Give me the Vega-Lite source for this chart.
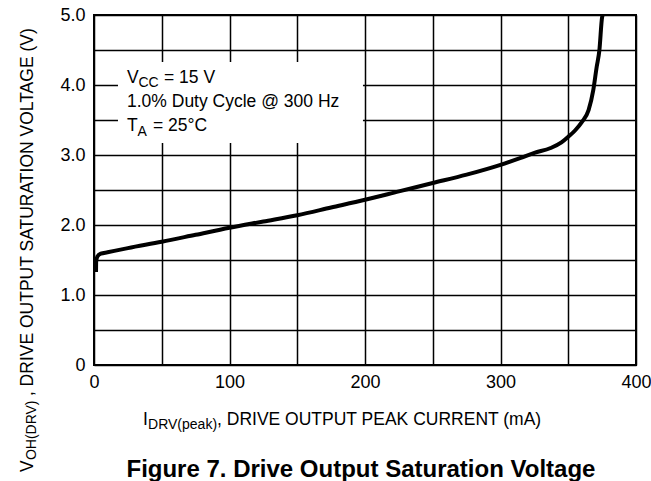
{
  "$schema": "https://vega.github.io/schema/vega-lite/v6.json",
  "width": 542,
  "height": 350,
  "autosize": {"type": "none"},
  "padding": {"left": 94, "top": 15, "right": 15, "bottom": 116},
  "background": "white",
  "config": {
    "view": {"stroke": "#000", "strokeWidth": 2},
    "font": "Liberation Sans",
    "axis": {
      "domain": false, "ticks": false, "grid": true, "gridColor": "#000", "gridWidth": 1.5, "gridOpacity": 1,
      "labelFont": "Liberation Sans", "labelFontSize": 18, "labelColor": "#000",
      "labelOverlap": false, "labelFlush": false
    },
    "text": {"font": "Liberation Sans", "color": "#000", "fontSize": 17.5, "align": "left", "baseline": "alphabetic"}
  },
  "encoding": {
    "x": {"type": "quantitative", "title": null, "scale": {"domain": [0, 400], "nice": false},
      "axis": {"values": [0, 50, 100, 150, 200, 250, 300, 350, 400], "labelExpr": "datum.value % 100 === 0 ? datum.label : ''", "labelPadding": 8}},
    "y": {"type": "quantitative", "title": null, "scale": {"domain": [0, 5], "nice": false},
      "axis": {"values": [0, 0.5, 1, 1.5, 2, 2.5, 3, 3.5, 4, 4.5, 5], "labelExpr": "datum.value === 0 ? '0' : (datum.value % 1 === 0 ? format(datum.value, '.1f') : '')", "labelPadding": 9}}
  },
  "layer": [
    {
      "data": {"values": [{"I": 1.5, "V": 1.33}, {"I": 1.6, "V": 1.48}, {"I": 2.5, "V": 1.55}, {"I": 5, "V": 1.59}, {"I": 10, "V": 1.61}, {"I": 25, "V": 1.67}, {"I": 50, "V": 1.76}, {"I": 75, "V": 1.86}, {"I": 100, "V": 1.96}, {"I": 125, "V": 2.05}, {"I": 150, "V": 2.14}, {"I": 175, "V": 2.25}, {"I": 200, "V": 2.36}, {"I": 225, "V": 2.48}, {"I": 250, "V": 2.6}, {"I": 275, "V": 2.72}, {"I": 300, "V": 2.86}, {"I": 315, "V": 2.96}, {"I": 325, "V": 3.03}, {"I": 337, "V": 3.1}, {"I": 345, "V": 3.18}, {"I": 350, "V": 3.26}, {"I": 355, "V": 3.35}, {"I": 360, "V": 3.47}, {"I": 365, "V": 3.64}, {"I": 368.5, "V": 3.93}, {"I": 371, "V": 4.26}, {"I": 373, "V": 4.5}, {"I": 375, "V": 4.97}, {"I": 375.5, "V": 5.0}]},
      "mark": {"type": "line", "color": "#000", "strokeWidth": 4, "interpolate": "monotone"},
      "encoding": {
        "x": {"field": "I"},
        "y": {"field": "V"}
      }
    },
    {
      "data": {"values": [{}]},
      "mark": {"type": "rect", "fill": "white", "strokeWidth": 0},
      "encoding": {
        "x": {"datum": 17.7},
        "x2": {"datum": 198.5},
        "y": {"datum": 3.17},
        "y2": {"datum": 4.33}
      }
    },
    {
      "data": {"values": [{}]},
      "layer": [
        {"mark": {"type": "text", "text": "V"}, "encoding": {"x": {"datum": 24.35}, "y": {"datum": 4.024}}},
        {"mark": {"type": "text", "text": "CC", "fontSize": 14, "dx": 11.5, "dy": 4}, "encoding": {"x": {"datum": 24.35}, "y": {"datum": 4.024}}},
        {"mark": {"type": "text", "text": "= 15 V", "dx": 37}, "encoding": {"x": {"datum": 24.35}, "y": {"datum": 4.024}}},
        {"mark": {"type": "text", "text": "1.0% Duty Cycle @ 300 Hz"}, "encoding": {"x": {"datum": 24.35}, "y": {"datum": 3.69}}},
        {"mark": {"type": "text", "text": "T"}, "encoding": {"x": {"datum": 24.35}, "y": {"datum": 3.35}}},
        {"mark": {"type": "text", "text": "A", "fontSize": 14, "dx": 10.5, "dy": 5}, "encoding": {"x": {"datum": 24.35}, "y": {"datum": 3.35}}},
        {"mark": {"type": "text", "text": "= 25°C", "dx": 26}, "encoding": {"x": {"datum": 24.35}, "y": {"datum": 3.35}}},
        {"mark": {"type": "text", "text": "I"}, "encoding": {"x": {"datum": 36.2}, "y": {"datum": -0.857}}},
        {"mark": {"type": "text", "text": "DRV(peak)", "fontSize": 14, "dx": 5, "dy": 4}, "encoding": {"x": {"datum": 36.2}, "y": {"datum": -0.857}}},
        {"mark": {"type": "text", "text": ", DRIVE OUTPUT PEAK CURRENT (mA)", "dx": 74}, "encoding": {"x": {"datum": 36.2}, "y": {"datum": -0.857}}},
        {"mark": {"type": "text", "text": "V", "angle": 270}, "encoding": {"x": {"datum": -45}, "y": {"datum": -1.53}}},
        {"mark": {"type": "text", "text": "OH(DRV)", "fontSize": 14, "angle": 270, "dx": 12, "dy": 3}, "encoding": {"x": {"datum": -45}, "y": {"datum": -1.53}}},
        {"mark": {"type": "text", "text": ", DRIVE OUTPUT SATURATION VOLTAGE (V)", "angle": 270, "dx": 76}, "encoding": {"x": {"datum": -45}, "y": {"datum": -1.53}}},
        {"mark": {"type": "text", "text": "Figure 7. Drive Output Saturation Voltage", "fontWeight": "bold", "fontSize": 24, "align": "center"}, "encoding": {"x": {"datum": 197}, "y": {"datum": -1.6}}}
      ]
    }
  ]
}
